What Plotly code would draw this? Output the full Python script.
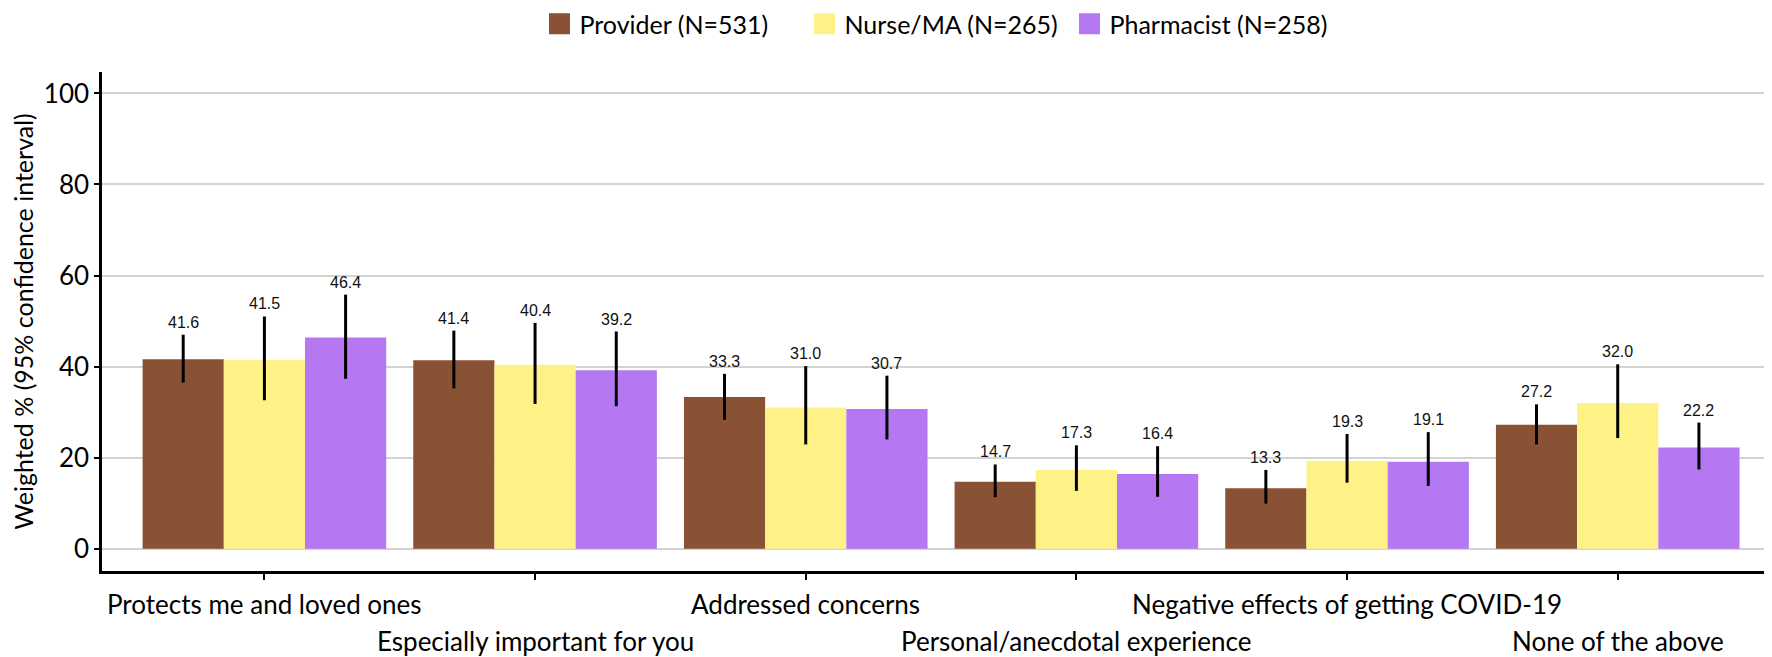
import plotly.graph_objects as go

categories = ["Protects me and loved ones", "Especially important for you", "Addressed concerns",
              "Personal/anecdotal experience", "Negative effects of getting COVID-19", "None of the above"]
series_names = ["Provider (N=531)", "Nurse/MA (N=265)", "Pharmacist (N=258)"]

provider = [41.6, 41.4, 33.3, 14.7, 13.3, 27.2]
provider_lo = [36.5, 35.2, 28.3, 11.3, 9.9, 22.9]
provider_hi = [47.0, 47.9, 38.4, 18.5, 17.3, 31.7]

nurse = [41.5, 40.4, 31.0, 17.3, 19.3, 32.0]
nurse_lo = [32.6, 31.8, 22.9, 12.7, 14.5, 24.3]
nurse_hi = [51.0, 49.6, 40.1, 22.7, 25.2, 40.5]

pharm = [46.4, 39.2, 30.7, 16.4, 19.1, 22.2]
pharm_lo = [37.3, 31.3, 24.0, 11.4, 13.8, 17.4]
pharm_hi = [55.8, 47.7, 38.0, 22.5, 25.6, 27.7]

y_ticks = [0, 20, 40, 60, 80, 100]

colors = ["#8A5234", "#FEF286", "#B577F2"]
TEXT_FONT = "Lato, 'Open Sans', sans-serif"
LABEL_FONT = "'Liberation Sans', Arial, sans-serif"

# the page body has an 8px default margin: size the figure to fit the window
W, H = 1772 - 8, 657 - 8

series = [
    (provider, provider_lo, provider_hi),
    (nurse, nurse_lo, nurse_hi),
    (pharm, pharm_lo, pharm_hi),
]

x_idx = list(range(len(categories)))
fig = go.Figure()
annotations = []
bar_w = 0.3
for k, ((vals, lo, hi), name, col) in enumerate(zip(series, series_names, colors)):
    fig.add_trace(go.Bar(
        x=x_idx, y=vals, name=name, marker=dict(color=col, line=dict(width=0)),
        showlegend=False,
        error_y=dict(type="data", symmetric=False,
                     array=[h - v for h, v in zip(hi, vals)],
                     arrayminus=[v - l for v, l in zip(vals, lo)],
                     color="black", thickness=3, width=0),
        hoverinfo="y",
    ))
    # legend proxy
    fig.add_trace(go.Scatter(
        x=[None], y=[None], mode="markers", name=name,
        marker=dict(symbol="square", size=22, color=col, line=dict(width=5, color=col)),
    ))
    off = (k - 1) * bar_w
    for i, (v, h) in enumerate(zip(vals, hi)):
        annotations.append(dict(
            x=i + off, y=h, xref="x", yref="y", text=f"{v:.1f}",
            showarrow=False, yanchor="bottom", yshift=2,
            font=dict(family=LABEL_FONT, size=16, color="#111111"),
        ))

for i, cat in enumerate(categories):
    annotations.append(dict(
        x=i, y=0, xref="x", yref="paper", text=cat, showarrow=False,
        yanchor="middle", yshift=-33 if i % 2 == 0 else -70,
        font=dict(family=TEXT_FONT, size=26, color="black"),
    ))

fig.update_layout(
    width=W, height=H,
    margin=dict(l=94, r=0, t=64, b=86),
    paper_bgcolor="white", plot_bgcolor="white",
    barmode="group", bargap=0.1, bargroupgap=0,
    font=dict(family=TEXT_FONT, color="black"),
    legend=dict(orientation="h", x=0.5, xanchor="center", y=1 - 16 / H, yanchor="middle",
                yref="container", font=dict(family=TEXT_FONT, size=25, color="black"),
                itemsizing="trace", traceorder="normal",
                entrywidth=220, entrywidthmode="pixels"),
    annotations=annotations,
    xaxis=dict(range=[-0.6, 5.57], tickvals=x_idx, ticktext=[""] * len(x_idx),
               showgrid=False, zeroline=False, showline=True, linecolor="black", linewidth=2.5,
               ticks="outside", ticklen=6, tickwidth=1.5, tickcolor="black"),
    yaxis=dict(range=[-4.9, 104.7], tickvals=y_ticks, showgrid=True, gridcolor="#D3D3D3",
               gridwidth=2, zeroline=False, showline=True, linecolor="black", linewidth=2.5,
               ticks="outside", ticklen=5, tickwidth=1.5, tickcolor="black",
               tickfont=dict(family=TEXT_FONT, size=26, color="black"),
               title=dict(text="Weighted % (95% confidence interval)", standoff=8,
                          font=dict(family=TEXT_FONT, size=25, color="black"))),
)

fig.write_html("out.html")
